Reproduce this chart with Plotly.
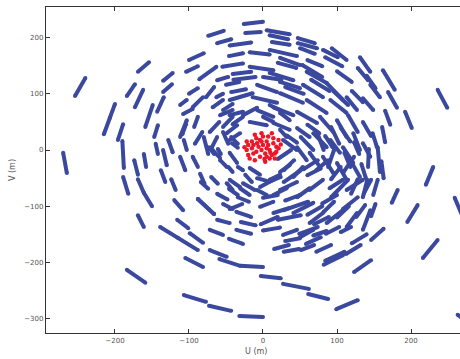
import plotly.graph_objects as go

# Axis ticks (metres)
x_ticks = [-200, -100, 0, 100, 200]
y_ticks = [-300, -200, -100, 0, 100, 200]

# uv-track segments, each as flat [u1, v1, u2, v2, (u3, v3)] in metres
tracks_west = [
    [-254, 96, -240, 128], [-270, -5, -265, -41], [-200, 82, -207, 57, -215, 28],
    [-189, 46, -196, 18], [-190, 16, -188, -32], [-174, -18, -169, -44],
    [-189, -48, -182, -78], [-169, -52, -161, -76, -150, -100], [-149, 80, -159, 41],
    [-161, -7, -158, -30], [-142, 44, -147, 23], [-145, 11, -142, -7],
    [-135, 0, -130, -27], [-138, -36, -132, -57], [-124, -52, -118, -71],
    [-120, -89, -108, -107], [-169, -116, -161, -137], [-88, -87, -66, -114],
    [-84, -57, -74, -69], [-70, -48, -61, -60], [-95, -12, -88, -30],
    [-107, 18, -103, 0], [-104, 46, -109, 28], [-88, 59, -93, 41],
    [-80, 23, -74, -7], [-73, 5, -66, -7], [-61, 2, -57, -7],
    [-59, 50, -72, 32], [-82, 32, -92, 11], [-112, 80, -103, 89],
    [-103, 53, -112, 23], [-112, -12, -105, -36], [-85, -42, -79, -60],
    [-184, 96, -173, 117], [-173, 76, -162, 107], [-169, 139, -154, 156],
    [-135, 123, -122, 137], [-135, 103, -123, 117], [-108, 64, -95, 73],
    [-95, 76, -81, 94], [-134, 94, -143, 68], [-128, 18, -122, -4],
]
tracks_north = [
    [-100, 160, -80, 172], [-104, 139, -88, 149], [-100, 100, -88, 110],
    [-86, 126, -63, 148], [-74, 203, -53, 212], [-62, 190, -43, 197],
    [-55, 148, -27, 154], [-62, 124, -47, 130], [-77, 94, -66, 112],
    [-46, 167, -27, 172], [-45, 186, -16, 191], [-50, 116, -32, 121],
    [-63, 94, -54, 100], [-41, 135, -16, 139], [-43, 103, -23, 108],
    [-54, 71, -41, 82], [-26, 224, 0, 228], [-24, 208, -3, 210],
    [5, 213, 36, 206], [9, 204, 34, 197], [12, 192, 36, 187],
    [47, 199, 70, 190], [47, 190, 73, 181], [50, 181, 70, 171],
    [81, 178, 101, 165], [93, 181, 113, 160], [84, 165, 107, 149],
    [-18, 174, 9, 170], [9, 178, 46, 167], [23, 164, 50, 151],
    [53, 151, 80, 130], [59, 139, 86, 119], [-18, 148, 14, 142],
    [9, 137, 41, 124], [-40, 125, -10, 130], [-8, 116, 19, 103],
    [23, 121, 50, 110], [54, 116, 81, 94], [86, 119, 108, 89],
    [-45, 89, -14, 101], [-14, 94, 19, 84], [23, 101, 54, 84],
    [59, 89, 86, 66], [-8, 71, 14, 59], [14, 76, 41, 62],
    [46, 68, 73, 48], [-45, 62, -27, 68], [-68, 76, -54, 89],
    [-58, 62, -41, 71], [-27, 62, -8, 75], [9, 80, 23, 71],
    [23, 66, 36, 53],
]
tracks_east = [
    [131, 165, 145, 139], [128, 146, 142, 124], [162, 142, 178, 107],
    [145, 116, 158, 94], [169, 103, 181, 75], [236, 107, 249, 75],
    [135, 92, 149, 71], [113, 94, 127, 71], [91, 89, 113, 66],
    [77, 59, 95, 32], [100, 53, 113, 23], [115, 62, 128, 32],
    [122, 30, 131, 0], [135, 12, 145, -12], [192, 68, 201, 39],
    [161, 41, 165, 14], [123, 14, 130, -7], [143, 2, 142, -30],
    [155, 5, 158, -39], [92, 41, 103, 11], [74, 28, 82, 0],
    [51, 23, 68, 0], [68, 30, 86, 5], [91, 18, 104, -5],
    [108, 5, 122, -23], [46, 39, 63, 23], [96, 0, 88, -30],
    [123, -12, 109, -39], [88, -18, 72, -36], [74, -18, 55, -34],
    [63, -5, 77, -30], [81, -12, 95, -41], [100, -23, 113, -53],
    [118, -18, 131, -48], [105, -30, 92, -52], [230, -30, 220, -62],
    [259, -85, 269, -116], [174, -94, 182, -71], [195, -128, 209, -98],
    [146, -53, 136, -78], [128, -52, 119, -78], [152, -96, 146, -118],
    [138, -98, 126, -119], [128, -84, 108, -105], [115, -53, 92, -84],
    [96, -92, 82, -110], [135, -84, 141, -53], [149, -80, 155, -53],
    [113, -71, 135, -53], [90, -68, 108, -53],
]
tracks_south = [
    [-116, -124, -101, -139], [-99, -148, -81, -165], [-139, -137, -115, -156, -88, -178],
    [-72, -178, -49, -190], [-62, -124, -45, -130], [-72, -142, -54, -151],
    [-105, -192, -81, -208], [-184, -213, -159, -236], [-107, -258, -77, -270],
    [-73, -277, -43, -286], [-32, -295, 0, -297], [-46, -158, -27, -167],
    [-59, -194, -31, -206, 0, -208], [-36, -142, -16, -149], [-3, -224, 24, -228],
    [27, -238, 62, -247], [61, -256, 88, -265], [99, -283, 128, -267],
    [216, -192, 236, -160], [123, -217, 146, -196], [112, -185, 132, -169],
    [82, -204, 108, -187], [84, -197, 110, -181], [72, -181, 92, -169],
    [58, -167, 78, -155], [49, -149, 74, -137], [85, -149, 103, -137],
    [105, -146, 119, -137], [15, -176, 35, -169], [28, -181, 49, -176],
    [51, -178, 69, -169], [146, -160, 163, -140], [135, -142, 145, -107],
    [113, -137, 127, -112], [86, -130, 108, -107], [63, -130, 81, -112],
    [41, -112, 68, -94], [14, -112, 36, -103], [-4, -101, 14, -92],
    [-45, -105, -28, -96], [0, -143, 23, -138], [27, -151, 46, -142],
    [50, -155, 68, -142], [89, -119, 69, -132], [61, -92, 28, -107],
    [51, -116, 20, -124], [20, -119, -3, -132], [263, -293, 275, -305],
    [-88, -87, -66, -114], [-54, -96, -41, -105], [-36, -110, -16, -119],
    [-34, -84, -19, -92], [-46, -69, -34, -80],
]
tracks_core = [
    [-47, -30, -41, -39], [-34, -30, -27, -36], [-54, 32, -47, 11],
    [-43, 23, -34, 11], [-54, 41, -41, 59], [-41, 46, -27, 59],
    [-45, -53, -31, -66], [-27, -59, -11, -71], [-4, -66, 14, -53],
    [23, -71, 46, -57], [46, -84, 63, -68], [63, -71, 81, -53],
    [51, -36, 28, -57], [24, -48, 7, -57], [42, -18, 28, -36],
    [38, 0, 20, -16], [27, 18, 46, 0], [46, 5, 59, -18],
    [54, -30, 41, -48], [-45, 18, -31, 30], [-45, -5, -35, -23],
    [-18, 50, 5, 44], [14, 48, 36, 36], [0, 59, 14, 50],
    [-62, 23, -69, 5], [-49, 30, -35, 44], [-42, 12, -34, 4],
    [-68, 0, -58, -14], [-58, -18, -49, -30], [-18, -32, -4, -44],
    [-24, -44, -15, -57], [-8, -50, 5, -55], [9, -53, 23, -44],
    [23, -39, 36, -27], [23, 36, 32, 23], [-49, -59, -41, -71],
    [-31, -68, -18, -80], [-8, -71, 5, -80], [14, -80, 32, -68],
]
tracks_dense = [
    [20, 155, 45, 146], [60, 160, 80, 149], [100, 140, 120, 121],
    [65, 125, 90, 105], [30, 112, 55, 100], [95, 105, 115, 80],
    [120, 105, 135, 85], [0, 130, 25, 125], [105, 40, 118, 15],
    [135, 50, 146, 25], [148, 30, 154, 5], [110, -5, 118, -30],
    [133, -25, 139, -50], [84, 25, 94, 5], [60, 45, 76, 30],
    [32, 26, 46, 13], [60, -45, 78, -33], [80, -95, 100, -80],
    [100, -120, 116, -100], [120, -166, 140, -150], [60, -115, 80, -100],
    [30, -90, 50, -80], [0, -85, 20, -80], [30, -162, 50, -157],
    [68, -152, 86, -144], [-30, -128, -10, -134], [-62, -78, -48, -88],
    [160, -20, 163, -50], [165, 70, 172, 45], [140, 132, 152, 110],
]

# Central (short-baseline) points
core_u = [-22, -20, -15, -13, -9, -6, -4, -2, 0, 3, 5, 7, 9, 12, 14, 16, 18, 21,
          -18, -11, -4, 3, 9, 16, -11, -20, -2, 5, 12, 18, 0, 7, 14, -15, -9, -2,
          -22, 21, 5, -13, -8, 10, -25, 24, 2]
core_v = [0, 9, 15, -6, 21, 6, 18, 30, 9, -6, 15, 24, 0, 30, 12, -6, 6, 18,
          -15, -18, -12, -21, -15, -15, 27, -9, 0, 3, -9, -3, 24, 9, 21, 3, -3, 15,
          15, 3, -12, 9, 12, -5, 5, 10, -16]

BLUE = "rgb(58,72,158)"
RED = "rgb(238,22,40)"
AXIS = "#333333"

us, vs = [], []
for group in (tracks_west, tracks_north, tracks_east, tracks_south,
              tracks_core, tracks_dense):
    for t in group:
        us += list(t[0::2]) + [None]
        vs += list(t[1::2]) + [None]

fig = go.Figure()
fig.add_trace(go.Scatter(
    x=us, y=vs, mode="lines+markers", connectgaps=False,
    line=dict(color=BLUE, width=4),
    marker=dict(color=BLUE, size=4, line=dict(width=0)),
    hoverinfo="skip",
))
fig.add_trace(go.Scatter(
    x=core_u, y=core_v, mode="markers",
    marker=dict(color=RED, size=4.5, line=dict(width=0)),
    hoverinfo="skip",
))

fig.update_layout(
    width=460, height=359,
    margin=dict(l=46, r=0, t=7, b=26),
    paper_bgcolor="white", plot_bgcolor="white",
    showlegend=False,
    font=dict(family="DejaVu Sans", size=7, color="#555555"),
    annotations=[
        dict(text="U (m)", xref="paper", yref="paper", x=0.507, y=-0.058,
             showarrow=False, font=dict(size=8, color="#555555"),
             xanchor="center", yanchor="middle"),
        dict(text="V (m)", xref="paper", yref="paper", x=-0.082, y=0.5,
             showarrow=False, textangle=-90, font=dict(size=8, color="#555555"),
             xanchor="center", yanchor="middle"),
    ],
)
fig.update_xaxes(
    range=[-293.2, 266.2], tickvals=x_ticks, ticks="inside", ticklen=4,
    tickcolor=AXIS, showline=True, linecolor=AXIS, linewidth=1.3,
    mirror="ticks", showgrid=False, zeroline=False,
)
fig.update_yaxes(
    range=[-325.4, 254.3], tickvals=y_ticks, ticks="inside", ticklen=4,
    tickcolor=AXIS, showline=True, linecolor=AXIS, linewidth=1.3,
    showgrid=False, zeroline=False,
)

fig.write_html("out.html", config={"displayModeBar": False},
               post_script="document.body.style.margin='0';")
